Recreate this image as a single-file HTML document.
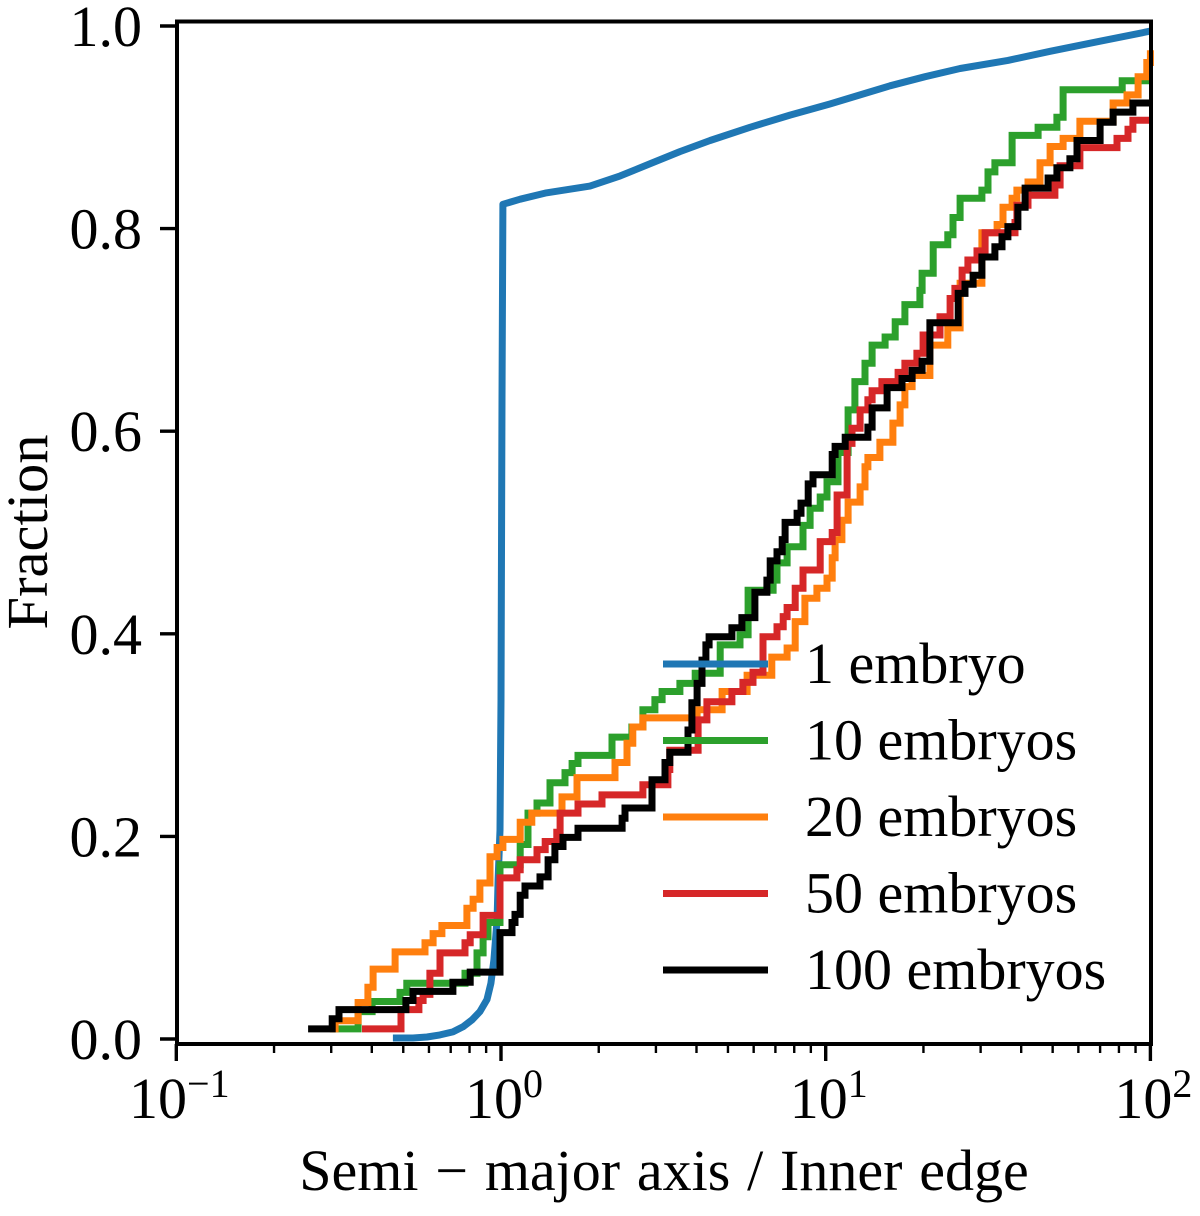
<!DOCTYPE html>
<html lang="en">
<head>
<meta charset="utf-8">
<title>Fraction vs semi-major axis</title>
<style>
html,body{margin:0;padding:0;background:#fff;}
svg{display:block;font-family:"Liberation Serif",serif;fill:#000;}
</style>
</head>
<body>
<svg id="chart" xmlns="http://www.w3.org/2000/svg" width="1200" height="1216" viewBox="0 0 1200 1216"></svg>
<script>
const xDecades = [-1, 0, 1, 2];
const xTickLabels = ["\u22121", "0", "1", "2"];
const minorMultipliers = [2, 3, 4, 5, 6, 7, 8, 9];
const yTicks = [0, 0.2, 0.4, 0.6, 0.8, 1.0];
const yTickLabels = ["0.0", "0.2", "0.4", "0.6", "0.8", "1.0"];
const legendLabels = ["1 embryo", "10 embryos", "20 embryos", "50 embryos", "100 embryos"];

const logA_1 = [-0.333,-0.271,-0.228,-0.188,-0.148,-0.117,-0.089,-0.065,-0.043,-0.031,-0.022,-0.012,-0.009,-0.003,0,0.003,0.006,0.059,0.136,0.274,0.367,0.459,0.551,0.644,0.767,0.890,1.013,1.106,1.198,1.306,1.414,1.561,1.691,1.845,2.0];
const frac_1 = [0.001,0.001,0.002,0.004,0.007,0.012,0.019,0.027,0.039,0.055,0.078,0.118,0.157,0.206,0.335,0.631,0.824,0.829,0.835,0.842,0.852,0.864,0.876,0.887,0.900,0.912,0.923,0.932,0.941,0.950,0.958,0.966,0.975,0.985,0.995];

const logA_10 = [-0.527,-0.440,-0.397,-0.311,-0.290,-0.111,-0.074,-0.055,-0.040,-0.003,0.059,0.083,0.111,0.151,0.197,0.219,0.237,0.342,0.403,0.437,0.474,0.496,0.551,0.598,0.675,0.736,0.761,0.838,0.850,0.881,0.930,0.952,0.983,1.004,1.038,1.069,1.090,1.121,1.143,1.183,1.214,1.244,1.290,1.297,1.331,1.376,1.392,1.414,1.481,1.500,1.521,1.574,1.654,1.712,1.731,1.913,2.0];
const frac_10 = [0.010,0.027,0.037,0.046,0.055,0.065,0.085,0.101,0.115,0.172,0.192,0.223,0.233,0.253,0.263,0.272,0.280,0.298,0.308,0.325,0.335,0.343,0.351,0.361,0.389,0.399,0.443,0.453,0.470,0.486,0.507,0.524,0.535,0.550,0.579,0.621,0.649,0.667,0.685,0.693,0.708,0.725,0.739,0.756,0.784,0.794,0.811,0.830,0.838,0.856,0.865,0.892,0.900,0.910,0.937,0.946,0.946];

const logA_20 = [-0.527,-0.511,-0.440,-0.410,-0.394,-0.326,-0.234,-0.209,-0.182,-0.105,-0.086,-0.065,-0.034,-0.012,0.006,0.059,0.095,0.188,0.234,0.351,0.388,0.406,0.437,0.604,0.681,0.758,0.834,0.881,0.906,0.936,0.973,1.004,1.020,1.029,1.050,1.069,1.106,1.121,1.130,1.167,1.207,1.229,1.244,1.266,1.321,1.376,1.414,1.481,1.528,1.546,1.574,1.589,1.623,1.660,1.691,1.731,1.783,1.885,1.928,1.962,1.989,2.0];
const frac_20 = [0.010,0.018,0.036,0.051,0.069,0.086,0.095,0.104,0.112,0.129,0.138,0.154,0.180,0.189,0.197,0.214,0.223,0.239,0.258,0.273,0.292,0.308,0.317,0.325,0.343,0.359,0.377,0.386,0.412,0.435,0.445,0.455,0.475,0.493,0.512,0.530,0.545,0.565,0.574,0.589,0.608,0.626,0.644,0.655,0.685,0.702,0.746,0.796,0.804,0.821,0.830,0.838,0.846,0.865,0.881,0.889,0.906,0.924,0.932,0.950,0.964,0.976];

const logA_50 = [-0.428,-0.308,-0.253,-0.240,-0.219,-0.188,-0.111,-0.095,-0.055,-0.003,0.049,0.059,0.111,0.136,0.172,0.182,0.237,0.311,0.437,0.514,0.520,0.607,0.634,0.711,0.745,0.776,0.807,0.850,0.869,0.881,0.906,0.930,0.983,1.020,1.035,1.066,1.081,1.106,1.130,1.143,1.173,1.223,1.244,1.281,1.300,1.352,1.383,1.398,1.420,1.438,1.466,1.491,1.583,1.589,1.623,1.706,1.722,1.783,1.897,1.931,1.946,2.0];
const frac_50 = [0.010,0.029,0.038,0.044,0.065,0.085,0.095,0.103,0.122,0.159,0.167,0.177,0.187,0.195,0.204,0.223,0.232,0.241,0.251,0.266,0.285,0.315,0.333,0.343,0.352,0.362,0.397,0.407,0.417,0.426,0.445,0.463,0.491,0.500,0.537,0.588,0.603,0.621,0.631,0.640,0.649,0.658,0.667,0.677,0.695,0.713,0.731,0.741,0.759,0.769,0.778,0.796,0.806,0.823,0.833,0.843,0.862,0.880,0.889,0.898,0.907,0.907];

const logA_100 = [-0.594,-0.520,-0.499,-0.293,-0.271,-0.148,-0.095,-0.003,0.034,0.043,0.059,0.074,0.120,0.145,0.166,0.191,0.237,0.373,0.382,0.465,0.505,0.520,0.576,0.588,0.604,0.619,0.631,0.641,0.711,0.742,0.782,0.819,0.829,0.850,0.866,0.875,0.912,0.924,0.946,0.961,1.020,1.029,1.060,1.130,1.143,1.189,1.235,1.266,1.297,1.321,1.408,1.429,1.454,1.481,1.521,1.543,1.561,1.592,1.614,1.685,1.712,1.752,1.774,1.845,1.885,1.946,2.0];
const frac_100 = [0.010,0.020,0.029,0.038,0.047,0.056,0.066,0.105,0.115,0.123,0.142,0.151,0.160,0.177,0.190,0.199,0.208,0.218,0.228,0.256,0.273,0.283,0.305,0.332,0.351,0.374,0.389,0.397,0.406,0.416,0.441,0.453,0.472,0.481,0.493,0.510,0.519,0.529,0.548,0.557,0.577,0.585,0.594,0.604,0.623,0.643,0.652,0.660,0.669,0.707,0.736,0.745,0.754,0.772,0.782,0.792,0.802,0.821,0.840,0.850,0.860,0.869,0.887,0.905,0.915,0.924,0.924];

const NS = "http://www.w3.org/2000/svg";
const svg = document.getElementById("chart");

function xScale(logValue){ return 501 + logValue * 324.7; }
function yScale(fraction){ return 1039 - fraction * 1013; }

function make(tag, attrs, parent){
  const el = document.createElementNS(NS, tag);
  for (const k in attrs) el.setAttribute(k, attrs[k]);
  (parent || svg).appendChild(el);
  return el;
}

function smoothPath(xs, ys){
  let d = "";
  for (let i = 0; i < xs.length; i++){
    d += (i ? "L" : "M") + xScale(xs[i]).toFixed(1) + " " + yScale(ys[i]).toFixed(1);
  }
  return d;
}
function stepPath(xs, ys){
  let d = "M" + xScale(xs[0]).toFixed(1) + " " + yScale(ys[0]).toFixed(1);
  for (let i = 1; i < xs.length; i++){
    d += "H" + xScale(xs[i]).toFixed(1) + "V" + yScale(ys[i]).toFixed(1);
  }
  return d;
}

// series, in drawing order
const s1 = make("path", {d: smoothPath(logA_1, frac_1), fill: "none", stroke: "#1f77b4", "stroke-width": 7, "stroke-linejoin": "round"});


const s2 = make("path", {d: stepPath(logA_10, frac_10), fill: "none", stroke: "#2ca02c", "stroke-width": 7});


const s3 = make("path", {d: stepPath(logA_20, frac_20), fill: "none", stroke: "#ff7f0e", "stroke-width": 7});


const s4 = make("path", {d: stepPath(logA_50, frac_50), fill: "none", stroke: "#d62728", "stroke-width": 7});


const s5 = make("path", {d: stepPath(logA_100, frac_100), fill: "none", stroke: "#000000", "stroke-width": 7});



// frame
const frame = make("rect", {x: 177, y: 21.5, width: 974, height: 1022.5, fill: "none", stroke: "#000", "stroke-width": 4});



// x axis ticks
xDecades.forEach(function(dec, i){
  const px = xScale(dec);
  const tick = make("line", {x1: px, x2: px, y1: 1044, y2: 1061, stroke: "#000", "stroke-width": 3.4});
  
  
  const label = make("text", {x: px + 3, y: 1118, "font-size": 58, "text-anchor": "middle"});
  
  
  label.textContent = "10";
  const sup = make("tspan", {dy: -21, "font-size": 40}, label);
  sup.textContent = xTickLabels[i];
  if (i < xDecades.length - 1){
    minorMultipliers.forEach(function(m){
      const mx = xScale(dec + Math.log10(m));
      const minor = make("line", {x1: mx, x2: mx, y1: 1044, y2: 1053, stroke: "#000", "stroke-width": 2.4});
      
      
    });
  }
});

// y axis ticks
yTicks.forEach(function(v, i){
  const py = yScale(v);
  const tick = make("line", {x1: 160, x2: 177, y1: py, y2: py, stroke: "#000", "stroke-width": 3.4});
  
  
  const label = make("text", {x: 142, y: py + 20, "font-size": 58, "text-anchor": "end"});
  
  
  label.textContent = yTickLabels[i];
});

// axis titles
const xTitle = make("text", {x: 664, y: 1190, "font-size": 58, "word-spacing": 2.3, "text-anchor": "middle"});


xTitle.textContent = "Semi \u2212 major axis / Inner edge";
const yTitle = make("text", {x: 0, y: 0, "font-size": 58.5, "text-anchor": "middle", transform: "translate(47 532) rotate(-90)"});


yTitle.textContent = "Fraction";

// legend
const legendColors = ["#1f77b4", "#2ca02c", "#ff7f0e", "#d62728", "#000000"];
const legendRows = [664, 740.5, 817, 893.5, 970];
legendLabels.forEach(function(txt, i){
  const line = make("line", {x1: 663, x2: 768, y1: legendRows[i], y2: legendRows[i], stroke: legendColors[i], "stroke-width": 7});
  
  
  const label = make("text", {x: 805, y: legendRows[i] + 19, "font-size": 58});
  
  
  label.textContent = txt;
});
</script>
</body>
</html>
